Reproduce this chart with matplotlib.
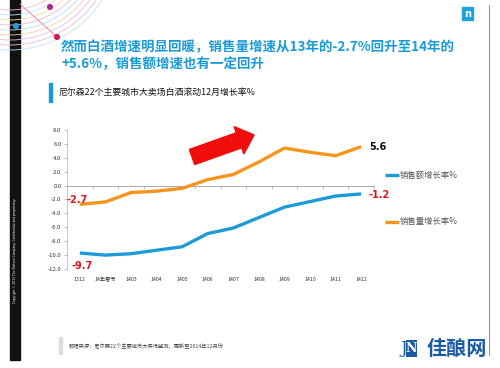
import matplotlib
matplotlib.use("Agg")
import matplotlib.pyplot as plt
from matplotlib.patches import Rectangle, Arc, FancyArrow
import numpy as np

plt.rcParams['font.family'] = ['Noto Sans CJK SC', 'DejaVu Sans']

categories = ["1312", "14年春节", "1403", "1404", "1405", "1406", "1407", "1408", "1409", "1410", "1411", "1412"]
sales_value = [-9.7, -10.0, -9.8, -9.3, -8.8, -6.9, -6.1, -4.6, -3.1, -2.3, -1.5, -1.2]
sales_volume = [-2.7, -2.35, -1.0, -0.8, -0.4, 0.86, 1.6, 3.4, 5.4, 4.8, 4.3, 5.6]
yticks = [8.0, 6.0, 4.0, 2.0, 0.0, -2.0, -4.0, -6.0, -8.0, -10.0, -12.0]
series_names = ["销售额增长率%", "销售量增长率%"]

BLUE = "#1e9bd7"
ORANGE = "#f7941d"
RED = "#e0161b"

W, H = 500, 368
fig = plt.figure(figsize=(W/100, H/100), dpi=100)
fig.patch.set_facecolor("white")

bg = fig.add_axes([0, 0, 1, 1])
bg.set_xlim(0, W)
bg.set_ylim(H, 0)
bg.axis("off")

# left black strip
bg.add_patch(Rectangle((10, 0), 10, 360, color="#111111", zorder=1))
bg.text(15, 250, "Copyright © 2013 The Nielsen Company. Confidential and proprietary.",
        rotation=90, color="white", fontsize=2.2, ha="center", va="center", family="DejaVu Sans")
# decorative arcs top-left
arc_cols = ["#f2b8d0", "#bfe0f4", "#f7dc98", "#e9b9d6", "#b9dcf2", "#f4cfa0", "#d8c0ea", "#f2b8d0", "#bfe0f4"]
for i, c in enumerate(arc_cols):
    r = 70 + i * 5
    bg.add_patch(Arc((10, -60), 2 * r, 2 * r, theta1=0, theta2=180, color=c, lw=0.6, zorder=2))
bg.plot([20, 57], [4, 37], color="#e27aa0", lw=0.6, zorder=2)
bg.add_patch(plt.Circle((50, 7), 2.3, color="#b0288a", zorder=3))
bg.add_patch(plt.Circle((57, 37), 2.3, color="#d0194f", zorder=3))
bg.add_patch(plt.Circle((16, 26), 2.3, color="#22a0d8", zorder=3))
# right border line
bg.plot([489, 489], [5, 355], color="#999999", lw=0.8)
# nielsen logo
bg.add_patch(Rectangle((462, 7), 11, 13, color="#1fa2dd", zorder=3))
bg.text(467.5, 14, "n", color="white", fontsize=7, fontweight="bold", ha="center", va="center", zorder=4,
        family="DejaVu Sans")

# title
bg.text(61, 47, "然而白酒增速明显回暖，销售量增速从13年的-2.7%回升至14年的",
        color="#1a9ad6", fontsize=9.7, fontweight="bold", ha="left", va="center")
bg.text(61, 64, "+5.6%，销售额增速也有一定回升",
        color="#1a9ad6", fontsize=9.7, fontweight="bold", ha="left", va="center")
# subtitle
bg.add_patch(Rectangle((49, 83), 2.5, 19, color="#1a9ad6"))
bg.text(58, 92.5, "尼尔森22个主要城市大卖场白酒滚动12月增长率%", color="#111111",
        fontsize=6.4, ha="left", va="center")
# footer
bg.add_patch(Rectangle((59, 337), 2.5, 17, color="#dddddd"))
bg.text(69, 346, "数据来源：尼尔森22个主要城市大卖场监测，更新至2014年12月份", color="#444444",
        fontsize=3.8, ha="left", va="center")
# watermark logo
bg.add_patch(Rectangle((406, 340), 11, 17, facecolor="#1d5aa6", edgecolor="none", zorder=3))
bg.text(411.5, 348.5, "N", color="white", fontsize=9, fontweight="bold", ha="center", va="center",
        family="DejaVu Serif", zorder=4)
bg.text(404, 348.5, "J", color="#1d5aa6", fontsize=12, ha="center", va="center",
        family="DejaVu Serif", zorder=4)
bg.text(427, 348, "佳酿网", color="#1d5aa6", fontsize=14.5, fontweight="bold", ha="left", va="center")

# main chart axes
ax = fig.add_axes([67/W, 1 - 269/H, (374 - 67)/W, (269 - 130)/H])
ax.set_facecolor("none")
x = np.arange(len(categories))
ax.plot(x, sales_value, color=BLUE, lw=2.4, solid_capstyle="butt", zorder=3)
ax.plot(x, sales_volume, color=ORANGE, lw=2.4, solid_capstyle="butt", zorder=3)
ax.set_xlim(-0.5, len(categories) - 0.5)
ax.set_ylim(-12, 8)
ax.set_yticks(yticks)
ax.set_yticklabels([f"{v:.1f}" for v in yticks], fontsize=4.3, color="#333333")
ax.tick_params(axis="y", length=2, width=0.5, color="#aaaaaa", pad=2)

for s in ["top", "right"]:
    ax.spines[s].set_visible(False)
ax.spines["left"].set_color("#bbbbbb")
ax.spines["left"].set_linewidth(0.6)
ax.spines["bottom"].set_position(("data", 0))
ax.spines["bottom"].set_color("#aaaaaa")
ax.spines["bottom"].set_linewidth(0.7)
ax.set_xticks(np.arange(len(categories) + 1) - 0.5)
ax.set_xticklabels([])
ax.tick_params(axis="x", length=2.5, width=0.5, color="#aaaaaa", direction="out")

sec = ax.secondary_xaxis(location=0)
sec.set_xticks(x)
sec.set_xticklabels(categories, fontsize=3.8, color="#333333")
sec.tick_params(length=0, pad=6)
sec.spines["bottom"].set_visible(False)

# data labels
ax.text(x[0] - 0.1, sales_volume[0] - 0.1, f"{sales_volume[0]:.1f}", color=RED, fontsize=7,
        fontweight="bold", ha="center", va="bottom", family="DejaVu Sans")
ax.text(x[0] + 0.1, sales_value[0] - 1.1, f"{sales_value[0]:.1f}", color=RED, fontsize=7,
        fontweight="bold", ha="center", va="top", family="DejaVu Sans")
ax.text(x[-1] + 0.3, sales_volume[-1], f"{sales_volume[-1]:.1f}", color="#111111", fontsize=7,
        fontweight="bold", ha="left", va="center", family="DejaVu Sans")
ax.text(x[-1] + 0.3, sales_value[-1] - 0.1, f"{sales_value[-1]:.1f}", color=RED, fontsize=7,
        fontweight="bold", ha="left", va="center", family="DejaVu Sans")

# red arrow (pixel coords in bg)
bg.add_patch(FancyArrow(192, 157, 47, -16.7, width=16, head_width=29, head_length=16,
                        length_includes_head=False, color="#f20d0d", zorder=5))

# legend
for yy, col, name in [(175, BLUE, series_names[0]), (221.5, ORANGE, series_names[1])]:
    bg.plot([385, 399], [yy, yy], color=col, lw=2.4, solid_capstyle="butt")
    bg.text(400, yy, name, color="#555555", fontsize=6, ha="left", va="center")

fig.savefig("out.png", dpi=100)
